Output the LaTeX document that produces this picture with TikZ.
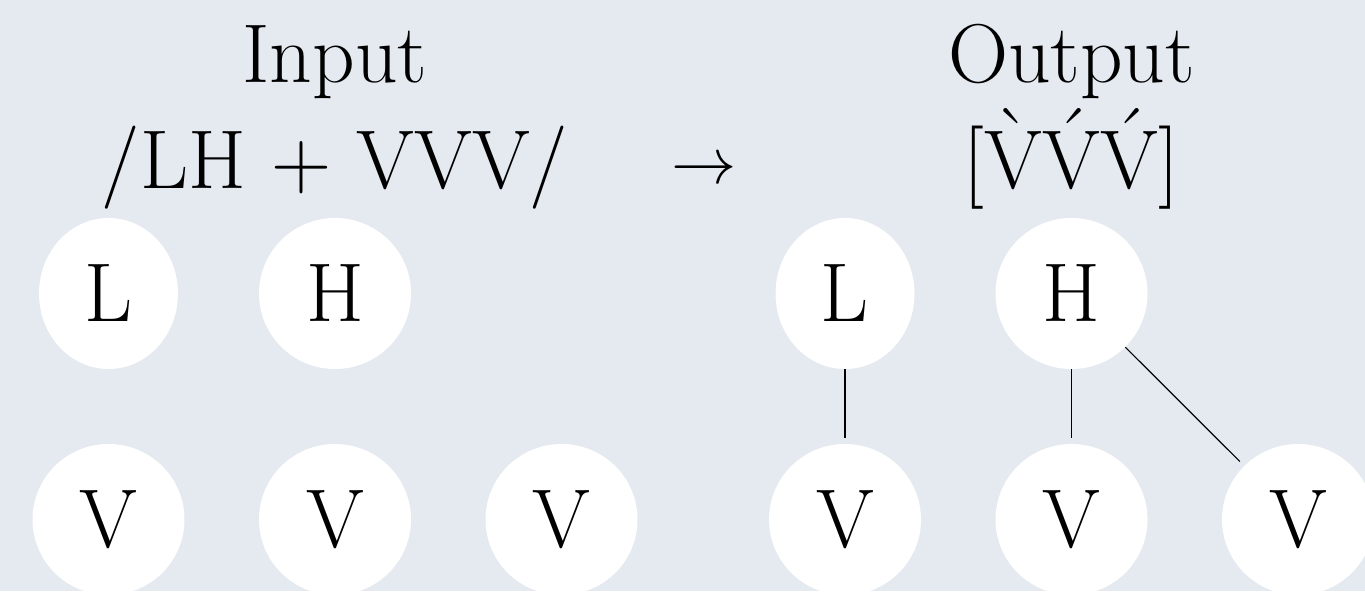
\RequirePackage{fix-cm}
\documentclass[tikz,border=0pt]{standalone}
\usetikzlibrary{shapes.geometric}
\definecolor{bgpanel}{HTML}{E5E9F0}
\newcommand{\segfont}{\fontsize{41.7}{50}\selectfont}
\newcommand{\arrowfont}{\fontsize{32.6}{40}\selectfont}
% tone marks: acute via the \accent primitive, grave as its mirror image
\newcommand{\hightone}[1]{\accent"B4 #1}
\newcommand{\lowtone}[1]{\ooalign{#1\cr\hidewidth\raisebox{\dimexpr\fontcharht\font`#1-1ex\relax}{\reflectbox{\char"B4}}\hidewidth\cr}}
\tikzset{
  seg/.style={ellipse, fill=white, inner sep=0pt, minimum height=75.5pt, font=\segfont},
  narrow/.style={seg, minimum width=69.5pt},
  wide/.style={seg, minimum width=76pt},
  head/.style={anchor=base, inner sep=0pt, font=\segfont},
  assoc/.style={draw=black, line width=0.6pt, shorten >=3pt},
}
\begin{document}
\begin{tikzpicture}[x=0.5pt, y=-0.5pt]
  \fill[bgpanel] (0,0) rectangle (1365,591);
  \useasboundingbox (0,0) rectangle (1365,591);

  % underlying form
  \node[head] (inTitle) at (335,82) {Input};
  \node[head] (inForm) at (335,188) {/LH + VVV/};
  \node[narrow] (iL) at (108.5,293.5) {L};
  \node[wide] (iH) at (335,293.5) {H};
  \node[wide] (iV1) at (108.5,519.5) {V};
  \node[wide] (iV2) at (335,519.5) {V};
  \node[wide] (iV3) at (561.5,519.5) {V};

  % mapping arrow
  \node[head, font=\arrowfont] (arr) at (704,183) {$\rightarrow$};

  % surface form
  \node[head] (outTitle) at (1071.5,82) {Output};
  \node[head] (outForm) at (1071.5,188) {[\lowtone{V}\hightone{V}\hightone{V}]};
  \node[narrow] (oL) at (845,293.5) {L};
  \node[wide] (oH) at (1071.5,293.5) {H};
  \node[wide] (oV1) at (845,519.5) {V};
  \node[wide] (oV2) at (1071.5,519.5) {V};
  \node[wide] (oV3) at (1298,519.5) {V};

  % tone association lines
  \draw[assoc] (oL) -- (oV1);
  \draw[assoc] (oH) -- (oV2);
  \draw[assoc] (oH) -- (oV3);
\end{tikzpicture}
\end{document}
